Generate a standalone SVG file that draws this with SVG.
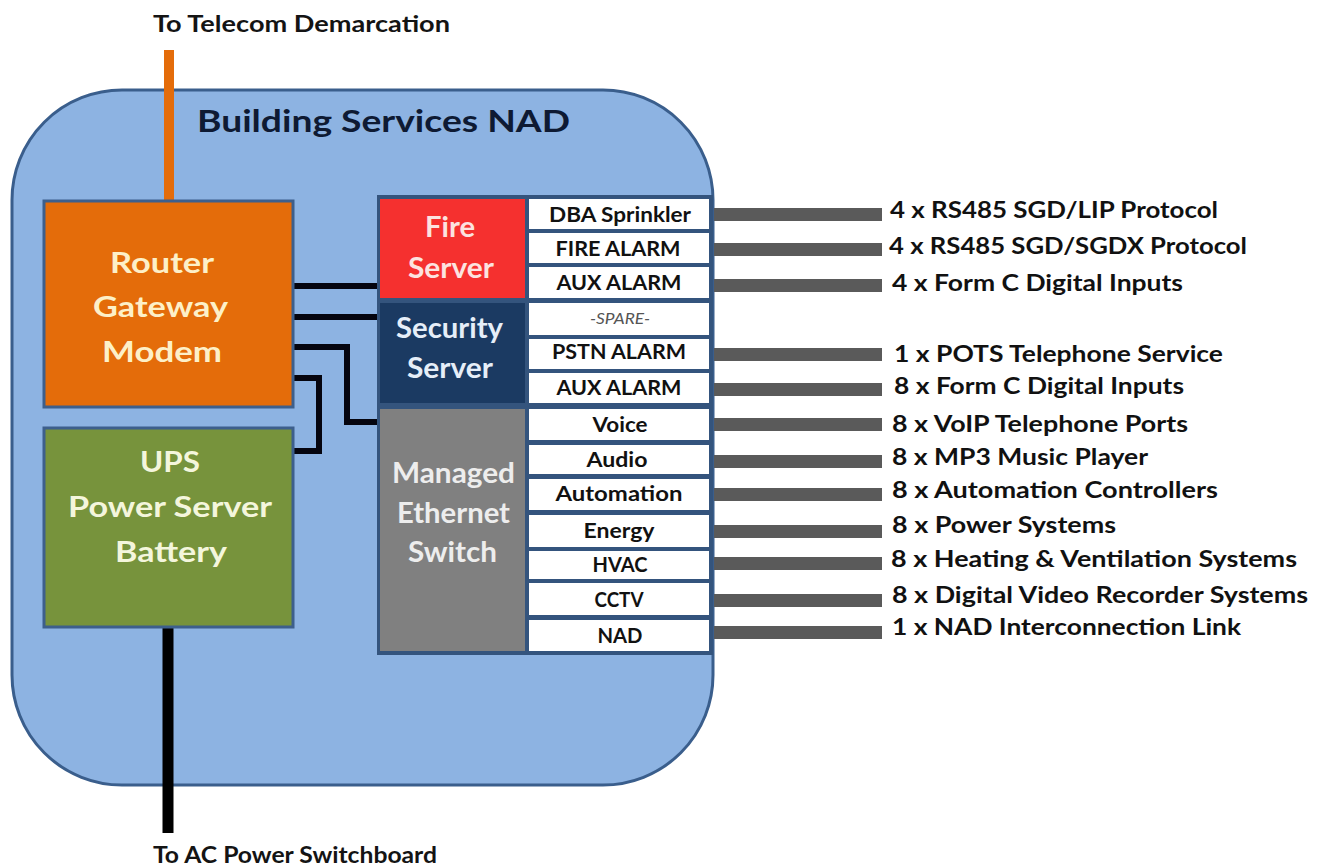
<svg xmlns="http://www.w3.org/2000/svg" width="1325" height="866" viewBox="0 0 1325 866">
<style>
text{font-family:Lato,"Liberation Sans",Arial,sans-serif;font-weight:700}
.ext{font-size:22px;fill:#141414}
.title{font-size:31px;fill:#0E1A33}
.node{font-size:28px}
.cell{font-size:20px;fill:#111;text-anchor:middle}
.spare{font-size:15px;font-style:italic;font-weight:400;fill:#555;text-anchor:middle}
.lab{font-size:22px;fill:#111}
.box{stroke:#3D5F8C;stroke-width:3}
.cellbg{fill:#FFFFFF}
.bar{fill:#5A5A5A}
.wire{fill:none;stroke:#05050F;stroke-width:6;stroke-linejoin:miter}
</style>
<rect width="1325" height="866" fill="#FFFFFF"/>

<g id="nad-enclosure">
<rect x="12" y="90" width="701" height="695" rx="110" ry="110" fill="#8DB3E2" stroke="#3A5E8C" stroke-width="3"/>
<text class="title" x="197" y="132" textLength="373" lengthAdjust="spacingAndGlyphs">Building Services NAD</text>
</g>

<g id="connectors">
<line x1="169" y1="50" x2="169" y2="201" stroke="#E46C0A" stroke-width="10"/>
<line x1="168" y1="627" x2="168" y2="833" stroke="#000" stroke-width="11"/>
<polyline class="wire" points="292,286 378,286"/>
<polyline class="wire" points="292,317 378,317"/>
<polyline class="wire" points="292,347 347,347 347,422 378,422"/>
<polyline class="wire" points="292,378 319,378 319,451 292,451"/>
<rect class="bar" x="714" y="208" width="168" height="13"/>
<rect class="bar" x="714" y="243" width="168" height="13"/>
<rect class="bar" x="714" y="279" width="168" height="13"/>
<rect class="bar" x="714" y="348" width="168" height="13"/>
<rect class="bar" x="714" y="383" width="168" height="13"/>
<rect class="bar" x="714" y="418" width="168" height="13"/>
<rect class="bar" x="714" y="455" width="168" height="13"/>
<rect class="bar" x="714" y="488" width="168" height="13"/>
<rect class="bar" x="714" y="525" width="168" height="13"/>
<rect class="bar" x="714" y="557" width="168" height="13"/>
<rect class="bar" x="714" y="594" width="168" height="13"/>
<rect class="bar" x="714" y="626" width="168" height="13"/>
</g>

<g id="telecom-label">
<text class="ext" x="153" y="32" textLength="297" lengthAdjust="spacingAndGlyphs">To Telecom Demarcation</text>
</g>
<g id="ac-power-label">
<text class="ext" x="153" y="863" textLength="284" lengthAdjust="spacingAndGlyphs">To AC Power Switchboard</text>
</g>

<g id="router">
<rect class="box" x="44" y="201" width="249" height="206" fill="#E46C0A"/>
<text class="node" fill="#FDF0C8" x="110" y="273" textLength="104" lengthAdjust="spacingAndGlyphs">Router</text>
<text class="node" fill="#FDF0C8" x="93" y="317" textLength="135" lengthAdjust="spacingAndGlyphs">Gateway</text>
<text class="node" fill="#FDF0C8" x="102" y="362" textLength="120" lengthAdjust="spacingAndGlyphs">Modem</text>
</g>

<g id="ups">
<rect class="box" x="44" y="428" width="249" height="199" fill="#77933C"/>
<text class="node" fill="#F4F6DC" x="140" y="472" textLength="60" lengthAdjust="spacingAndGlyphs">UPS</text>
<text class="node" fill="#F4F6DC" x="68" y="517" textLength="204" lengthAdjust="spacingAndGlyphs">Power Server</text>
<text class="node" fill="#F4F6DC" x="115" y="562" textLength="112" lengthAdjust="spacingAndGlyphs">Battery</text>
</g>

<g id="server-panel">
<rect x="377" y="195" width="336" height="460" fill="#34547D"/>
</g>

<g id="fire-server">
<rect x="380" y="199" width="145" height="99" fill="#F5302F"/>
<text class="node" fill="#FCE3E0" x="425" y="237" textLength="50" lengthAdjust="spacingAndGlyphs">Fire</text>
<text class="node" fill="#FCE3E0" x="408" y="278" textLength="86" lengthAdjust="spacingAndGlyphs">Server</text>
</g>

<g id="security-server">
<rect x="380" y="303" width="145" height="100" fill="#1B3A62"/>
<text class="node" fill="#E6EEF8" x="396" y="338" textLength="107" lengthAdjust="spacingAndGlyphs">Security</text>
<text class="node" fill="#E6EEF8" x="407" y="378" textLength="86" lengthAdjust="spacingAndGlyphs">Server</text>
</g>

<g id="ethernet-switch">
<rect x="380" y="409" width="145" height="242" fill="#808080"/>
<text class="node" fill="#EDEDED" x="392" y="483" textLength="123" lengthAdjust="spacingAndGlyphs">Managed</text>
<text class="node" fill="#EDEDED" x="397" y="523" textLength="113" lengthAdjust="spacingAndGlyphs">Ethernet</text>
<text class="node" fill="#EDEDED" x="408" y="562" textLength="89" lengthAdjust="spacingAndGlyphs">Switch</text>
</g>

<g id="port-dba-sprinkler">
<rect class="cellbg" x="529" y="199" width="180" height="30"/>
<text class="cell" x="620" y="222" textLength="142" lengthAdjust="spacingAndGlyphs">DBA Sprinkler</text>
</g>
<g id="port-fire-alarm">
<rect class="cellbg" x="529" y="233" width="180" height="30"/>
<text class="cell" x="618" y="256" textLength="125" lengthAdjust="spacingAndGlyphs">FIRE ALARM</text>
</g>
<g id="port-aux-alarm-1">
<rect class="cellbg" x="529" y="267" width="180" height="31"/>
<text class="cell" x="619" y="290" textLength="125" lengthAdjust="spacingAndGlyphs">AUX ALARM</text>
</g>
<g id="port-spare">
<rect class="cellbg" x="529" y="303" width="180" height="32"/>
<text class="spare" x="620" y="324" textLength="60" lengthAdjust="spacingAndGlyphs">-SPARE-</text>
</g>
<g id="port-pstn-alarm">
<rect class="cellbg" x="529" y="339" width="180" height="30"/>
<text class="cell" x="619" y="359" textLength="134" lengthAdjust="spacingAndGlyphs">PSTN ALARM</text>
</g>
<g id="port-aux-alarm-2">
<rect class="cellbg" x="529" y="373" width="180" height="30"/>
<text class="cell" x="619" y="395" textLength="125" lengthAdjust="spacingAndGlyphs">AUX ALARM</text>
</g>
<g id="port-voice">
<rect class="cellbg" x="529" y="409" width="180" height="31"/>
<text class="cell" x="620" y="432" textLength="55" lengthAdjust="spacingAndGlyphs">Voice</text>
</g>
<g id="port-audio">
<rect class="cellbg" x="529" y="445" width="180" height="29"/>
<text class="cell" x="617" y="467" textLength="61" lengthAdjust="spacingAndGlyphs">Audio</text>
</g>
<g id="port-automation">
<rect class="cellbg" x="529" y="479" width="180" height="31"/>
<text class="cell" x="619" y="501" textLength="127" lengthAdjust="spacingAndGlyphs">Automation</text>
</g>
<g id="port-energy">
<rect class="cellbg" x="529" y="515" width="180" height="32"/>
<text class="cell" x="619" y="538" textLength="71" lengthAdjust="spacingAndGlyphs">Energy</text>
</g>
<g id="port-hvac">
<rect class="cellbg" x="529" y="551" width="180" height="28"/>
<text class="cell" x="620" y="572" textLength="55" lengthAdjust="spacingAndGlyphs">HVAC</text>
</g>
<g id="port-cctv">
<rect class="cellbg" x="529" y="583" width="180" height="32"/>
<text class="cell" x="619" y="607" textLength="49" lengthAdjust="spacingAndGlyphs">CCTV</text>
</g>
<g id="port-nad">
<rect class="cellbg" x="529" y="620" width="180" height="31"/>
<text class="cell" x="620" y="643" textLength="45" lengthAdjust="spacingAndGlyphs">NAD</text>
</g>

<g id="external-labels">
<text class="lab" x="890" y="218" textLength="328" lengthAdjust="spacingAndGlyphs">4 x RS485 SGD/LIP Protocol</text>
<text class="lab" x="889" y="254" textLength="358" lengthAdjust="spacingAndGlyphs">4 x RS485 SGD/SGDX Protocol</text>
<text class="lab" x="892" y="291" textLength="291" lengthAdjust="spacingAndGlyphs">4 x Form C Digital Inputs</text>
<text class="lab" x="894" y="362" textLength="329" lengthAdjust="spacingAndGlyphs">1 x POTS Telephone Service</text>
<text class="lab" x="894" y="394" textLength="290" lengthAdjust="spacingAndGlyphs">8 x Form C Digital Inputs</text>
<text class="lab" x="892" y="432" textLength="296" lengthAdjust="spacingAndGlyphs">8 x VoIP Telephone Ports</text>
<text class="lab" x="892" y="465" textLength="256" lengthAdjust="spacingAndGlyphs">8 x MP3 Music Player</text>
<text class="lab" x="892" y="498" textLength="326" lengthAdjust="spacingAndGlyphs">8 x Automation Controllers</text>
<text class="lab" x="892" y="533" textLength="224" lengthAdjust="spacingAndGlyphs">8 x Power Systems</text>
<text class="lab" x="891" y="567" textLength="406" lengthAdjust="spacingAndGlyphs">8 x Heating &amp; Ventilation Systems</text>
<text class="lab" x="892" y="603" textLength="416" lengthAdjust="spacingAndGlyphs">8 x Digital Video Recorder Systems</text>
<text class="lab" x="892" y="635" textLength="349" lengthAdjust="spacingAndGlyphs">1 x NAD Interconnection Link</text>
</g>
</svg>
